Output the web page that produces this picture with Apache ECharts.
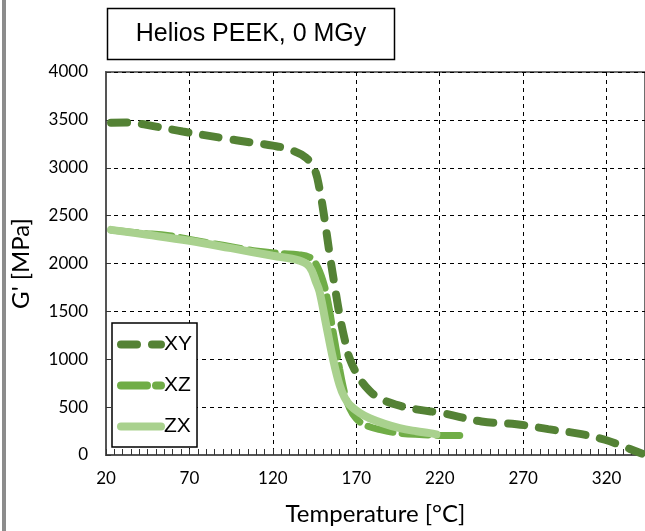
<!DOCTYPE html>
<html>
<head>
<meta charset="utf-8">
<script src="https://cdn.jsdelivr.net/npm/echarts@6/dist/echarts.min.js"></script>
<style>
  html, body { margin: 0; padding: 0; background: #fff; }
  #chart { width: 645px; height: 531px; }
</style>
</head>
<body>
<div id="chart"></div>
<script>
// data (temperature in °C, G' in MPa)
const xyData = [
    [23, 3470], [32, 3472], [50, 3430], [66, 3378], [90, 3310], [106, 3266],
    [120, 3231], [130, 3190], [140, 3103], [145, 2982], [148, 2774], [151, 2462],
    [154, 2100], [157, 1770], [160, 1460], [163, 1210], [166, 1008], [172, 800],
    [178, 670], [184, 592], [196, 515], [208, 471], [222, 436], [245, 350],
    [266, 322], [285, 270], [305, 218], [319, 159], [330, 90], [341, 15]
];
const xzData = [
    [23, 2350], [40, 2318], [58, 2290], [70, 2252], [90, 2190], [111, 2128],
    [125, 2105], [135, 2092], [142, 2065], [146, 1990], [150, 1820], [153, 1600],
    [156, 1300], [160, 900], [163, 650], [166, 488], [170, 380], [175, 315],
    [185, 262], [196, 228], [210, 212], [218, 205], [232, 204]
];
const zxData = [
    [23, 2351], [45, 2300], [70, 2237], [95, 2160], [120, 2081], [136, 2030],
    [142, 1965], [146, 1800], [148, 1704], [152, 1354], [156, 1008], [160, 730],
    [163, 600], [166, 523], [172, 440], [178, 384], [187, 325], [196, 280],
    [206, 248], [214, 228], [218, 215]
];
const seriesNames = ['XY', 'XZ', 'ZX'];
const seriesColors = ['#548235', '#70ad47', '#a9d18e'];
const yTicks = [0, 500, 1000, 1500, 2000, 2500, 3000, 3500, 4000];
const xTicks = [20, 70, 120, 170, 220, 270, 320];

const chart = echarts.init(document.getElementById('chart'));

const axisFont = 'Lato, "Open Sans", sans-serif';

const option = {
    backgroundColor: '#fff',
    animation: false,
    grid: {
        left: 106,
        right: -3,
        top: 72,
        bottom: 74,
        show: true,
        borderColor: '#6e6e6e',
        borderWidth: 2
    },
    graphic: [
        {
            type: 'rect',
            shape: { x: 2, y: 0, width: 4, height: 531 },
            style: { fill: '#8c8c8c' }
        },
        {
            type: 'rect',
            shape: { x: 107.5, y: 8.5, width: 287, height: 51 },
            style: { fill: '#fff', stroke: '#000', lineWidth: 1.5 }
        },
        {
            type: 'text',
            x: 251,
            y: 34,
            style: {
                text: 'Helios PEEK, 0 MGy',
                font: '25px "Liberation Sans", Arial, sans-serif',
                fill: '#000',
                align: 'center',
                verticalAlign: 'middle'
            }
        }
    ],
    legend: {
        data: seriesNames,
        orient: 'vertical',
        left: 112,
        top: 323,
        itemWidth: 40,
        itemHeight: 10,
        itemGap: 20,
        padding: [11, 5, 10, 5],
        backgroundColor: '#fff',
        borderColor: '#000',
        borderWidth: 1.5,
        borderRadius: 0,
        itemStyle: { opacity: 0 },
        lineStyle: { width: 8, cap: 'round' },
        textStyle: {
            fontSize: 21,
            color: '#000',
            fontFamily: '"Liberation Sans", Arial, sans-serif',
            padding: [0, 0, 0, -2]
        }
    },
    xAxis: {
        type: 'value',
        min: 20,
        max: 343,
        interval: 50,
        name: 'Temperature [°C]',
        nameLocation: 'middle',
        nameGap: 47,
        nameTextStyle: { fontSize: 24, color: '#000', fontFamily: axisFont },
        axisLine: { show: true, onZero: false, lineStyle: { color: '#555', width: 2 } },
        axisTick: { show: true, inside: true, length: 6, lineStyle: { color: '#333' } },
        minorTick: { show: true, splitNumber: 10, length: 6, lineStyle: { color: '#333' } },
        axisLabel: {
            showMaxLabel: false,
            fontSize: 17,
            color: '#000',
            fontFamily: axisFont,
            margin: 15,
            formatter: v => (xTicks.includes(v) ? String(v) : '')
        },
        splitLine: { show: true, lineStyle: { color: '#000', type: [4, 4], width: 1 } }
    },
    yAxis: {
        type: 'value',
        min: 0,
        max: 4000,
        interval: 500,
        name: "G' [MPa]",
        nameLocation: 'middle',
        nameGap: 73,
        nameTextStyle: { fontSize: 24, color: '#000', fontFamily: axisFont },
        axisLine: { show: true, lineStyle: { color: '#555', width: 2 } },
        axisTick: { show: true, inside: true, length: 5, lineStyle: { color: '#333' } },
        axisLabel: {
            fontSize: 17,
            color: '#000',
            fontFamily: axisFont,
            margin: 18,
            formatter: v => (yTicks.includes(v) ? String(v) : '')
        },
        splitLine: { show: true, lineStyle: { color: '#000', type: [4, 4], width: 1 } }
    },
    series: [
        {
            name: seriesNames[0],
            type: 'line',
            data: xyData,
            smooth: 0.4,
            symbol: 'none',
            z: 3,
            lineStyle: { color: seriesColors[0], width: 8, type: [16, 15], cap: 'round' },
            itemStyle: { color: seriesColors[0] }
        },
        {
            name: seriesNames[1],
            type: 'line',
            data: xzData,
            smooth: 0.4,
            symbol: 'none',
            z: 2,
            lineStyle: { color: seriesColors[1], width: 7, type: [26, 9], cap: 'round' },
            itemStyle: { color: seriesColors[1] }
        },
        {
            name: seriesNames[2],
            type: 'line',
            data: zxData,
            smooth: 0.4,
            symbol: 'none',
            z: 2,
            lineStyle: { color: seriesColors[2], width: 8, cap: 'round' },
            itemStyle: { color: seriesColors[2] }
        }
    ]
};

chart.setOption(option);
</script>
</body>
</html>
